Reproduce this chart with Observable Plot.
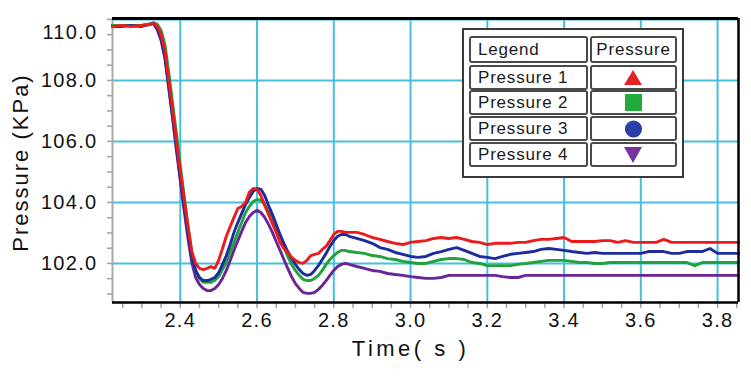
<!DOCTYPE html>
<html>
<head>
<meta charset="utf-8">
<script src="https://cdn.jsdelivr.net/npm/d3@7"></script>
<script src="https://cdn.jsdelivr.net/npm/@observablehq/plot@0.6"></script>
<style>
  body { margin: 0; background: #fff; }
  #wrap { position: relative; width: 751px; height: 380px; overflow: hidden; }
  #wrap svg.plot { position: absolute; left: 0; top: 0; }
  .lg-box { position: absolute; box-sizing: border-box; border: 2px solid #3a3a3a; background: #fff; }
  .lg-cell { position: absolute; box-sizing: border-box; border: 2px solid #4a4a4a; border-radius: 3px;
             font-family: "Liberation Sans", Arial, sans-serif; font-size: 17px; letter-spacing: 0.8px; color: #1a1a1a;
             display: flex; align-items: center; }
  .lg-sym { display: block; width: 100%; text-align: center; line-height: 0; }
  .lg-sym svg { display: inline-block; }
</style>
</head>
<body>
<div id="wrap"></div>
<script>
// ---------- data ----------
const time = [2.223, 2.25, 2.27, 2.30, 2.32, 2.33,
  2.34, 2.35, 2.36, 2.37, 2.38, 2.39, 2.40, 2.41, 2.42, 2.43,
  2.44, 2.45, 2.46, 2.47, 2.48, 2.49, 2.50, 2.51, 2.52, 2.53,
  2.54, 2.55, 2.56, 2.57, 2.58, 2.59, 2.60, 2.61, 2.62, 2.63,
  2.64, 2.65, 2.66, 2.67, 2.68, 2.69, 2.70, 2.71, 2.72, 2.73,
  2.74, 2.75, 2.76, 2.77, 2.78, 2.79, 2.80, 2.81, 2.82, 2.83, 2.84,
  2.86, 2.88, 2.90, 2.92, 2.94, 2.96, 2.98, 3.00,
  3.02, 3.04, 3.06, 3.08, 3.10, 3.12, 3.14, 3.16, 3.18, 3.20,
  3.22, 3.24, 3.26, 3.28, 3.30, 3.32, 3.34, 3.36, 3.38, 3.40,
  3.42, 3.44, 3.46, 3.48, 3.50, 3.52, 3.54, 3.56, 3.58, 3.60,
  3.62, 3.64, 3.66, 3.68, 3.70, 3.72, 3.74, 3.76, 3.78, 3.80, 3.82, 3.84,
  3.855];

const pressure1 = [109.77, 109.80, 109.77, 109.80, 109.84, 109.87,
  109.77, 109.51, 108.98, 108.00, 107.02, 106.03, 105.02, 104.13, 103.21, 102.39,
  102.00, 101.84, 101.80, 101.84, 101.90, 101.84, 102.10, 102.49, 102.89, 103.21,
  103.51, 103.80, 103.87, 104.00, 104.33, 104.46, 104.43, 104.23, 103.90, 103.61,
  103.31, 103.02, 102.69, 102.49, 102.36, 102.20, 102.10, 102.03, 102.00, 102.10,
  102.26, 102.30, 102.33, 102.46, 102.56, 102.75, 102.95, 103.05, 103.05, 103.02, 103.02,
  103.02, 102.95, 102.85, 102.79, 102.72, 102.66, 102.62, 102.69,
  102.72, 102.75, 102.82, 102.85, 102.82, 102.85, 102.79, 102.72, 102.69, 102.62,
  102.66, 102.66, 102.66, 102.69, 102.69, 102.75, 102.79, 102.79, 102.82, 102.85,
  102.72, 102.72, 102.72, 102.72, 102.75, 102.75, 102.69, 102.75, 102.69, 102.69,
  102.69, 102.69, 102.79, 102.69, 102.69, 102.69, 102.69, 102.69, 102.69, 102.69, 102.69, 102.69,
  102.69];

const pressure2 = [109.80, 109.80, 109.80, 109.80, 109.84, 109.90,
  109.84, 109.64, 109.18, 108.26, 107.25, 106.26, 105.21, 104.23, 103.25, 102.36,
  101.77, 101.51, 101.38, 101.38, 101.38, 101.44, 101.57, 101.80, 102.03, 102.36,
  102.69, 103.02, 103.34, 103.67, 103.87, 104.03, 104.10, 104.07, 103.93, 103.70,
  103.44, 103.15, 102.85, 102.52, 102.23, 101.97, 101.77, 101.61, 101.48, 101.44,
  101.44, 101.51, 101.61, 101.77, 101.97, 102.13, 102.26, 102.36, 102.43, 102.43, 102.39,
  102.36, 102.33, 102.26, 102.23, 102.16, 102.13, 102.07, 102.03,
  102.00, 102.00, 102.07, 102.13, 102.16, 102.16, 102.13, 102.03, 102.00, 101.93,
  101.93, 101.93, 101.93, 101.97, 102.00, 102.03, 102.07, 102.10, 102.10, 102.10,
  102.07, 102.03, 102.03, 102.00, 102.00, 102.03, 102.03, 102.03, 102.03, 102.03,
  102.03, 102.03, 102.03, 102.03, 102.03, 102.03, 101.93, 102.03, 102.03, 102.03, 102.03, 102.03,
  102.03];

const pressure3 = [109.77, 109.77, 109.80, 109.77, 109.84, 109.87,
  109.70, 109.38, 108.79, 107.80, 106.82, 105.84, 104.82, 103.90, 103.02, 102.23,
  101.77, 101.54, 101.44, 101.44, 101.48, 101.54, 101.70, 101.97, 102.26, 102.62,
  103.02, 103.34, 103.64, 103.93, 104.16, 104.36, 104.46, 104.43, 104.23, 103.90,
  103.61, 103.28, 102.95, 102.66, 102.39, 102.16, 101.97, 101.80, 101.67, 101.61,
  101.64, 101.77, 101.93, 102.13, 102.33, 102.56, 102.75, 102.89, 102.95, 102.95, 102.89,
  102.82, 102.75, 102.66, 102.52, 102.46, 102.36, 102.30, 102.23,
  102.20, 102.23, 102.33, 102.39, 102.46, 102.52, 102.43, 102.33, 102.23, 102.20,
  102.16, 102.23, 102.30, 102.33, 102.36, 102.39, 102.46, 102.49, 102.46, 102.43,
  102.39, 102.36, 102.33, 102.36, 102.33, 102.33, 102.33, 102.33, 102.33, 102.33,
  102.39, 102.39, 102.39, 102.33, 102.33, 102.39, 102.39, 102.39, 102.49, 102.33, 102.33, 102.33,
  102.33];

const pressure4 = [109.80, 109.80, 109.80, 109.80, 109.84, 109.87,
  109.67, 109.31, 108.72, 107.74, 106.75, 105.70, 104.72, 103.74, 102.82, 102.03,
  101.54, 101.31, 101.18, 101.11, 101.11, 101.18, 101.31, 101.51, 101.77, 102.10,
  102.43, 102.75, 103.05, 103.34, 103.54, 103.67, 103.74, 103.67, 103.51, 103.28,
  103.02, 102.72, 102.43, 102.13, 101.84, 101.57, 101.34, 101.18, 101.05, 101.02,
  101.02, 101.05, 101.15, 101.28, 101.44, 101.61, 101.77, 101.90, 101.97, 102.00, 101.97,
  101.90, 101.84, 101.77, 101.74, 101.67, 101.64, 101.61, 101.57,
  101.54, 101.51, 101.51, 101.54, 101.61, 101.61, 101.61, 101.61, 101.61, 101.61,
  101.61, 101.57, 101.54, 101.54, 101.61, 101.61, 101.61, 101.61, 101.61, 101.61,
  101.61, 101.61, 101.61, 101.61, 101.61, 101.61, 101.61, 101.61, 101.61, 101.61,
  101.61, 101.61, 101.61, 101.61, 101.61, 101.61, 101.61, 101.61, 101.61, 101.61, 101.61, 101.61,
  101.61];

const seriesNames = ["Pressure 1", "Pressure 2", "Pressure 3", "Pressure 4"];
const seriesColors = ["#ec1a1a", "#20a23c", "#1c2c9c", "#6a2498"];
const symbolColors = ["#e42424", "#22aa3e", "#2a40a8", "#7434a4"];
const symbolShapes = ["triangle", "square", "circle", "triangle-down"];

const xTicks = [2.4, 2.6, 2.8, 3.0, 3.2, 3.4, 3.6, 3.8];
const yTicks = [102, 104, 106, 108, 110];
const yTopTick = [110];
const yInnerTicks = [102, 104, 106, 108];
const xMinorTicks = d3.range(2.25, 3.851, 0.05);
const yMinorTicks = d3.range(101, 110.01, 0.5);
const xDomain = [2.2234, 3.8545];
const yDomain = [100.72, 110.03];

const yLabel = "Pressure (KPa)";
const xLabel = "Time( s )";
const legendHeader = ["Legend", "Pressure"];

// ---------- build table ----------
const allSeries = [pressure1, pressure2, pressure3, pressure4];
const rows = [];
// draw order: purple, green, blue, red (red on top)
[3, 1, 2, 0].forEach(si => {
  const vals = allSeries[si];
  const n = Math.min(time.length, vals.length);
  for (let i = 0; i < n; i++) rows.push({t: time[i], v: vals[i], s: seriesNames[si]});
});

const gridColor = "#45bfdc";

const chart = Plot.plot({
  className: "plot",
  width: 751,
  height: 380,
  marginLeft: 112,
  marginRight: 13,
  marginTop: 18,
  marginBottom: 78,
  style: {fontFamily: "'Liberation Sans', Arial, sans-serif", fontSize: "20px", color: "#111", background: "transparent", letterSpacing: "1.3px"},
  x: {domain: xDomain},
  y: {domain: yDomain},
  color: {domain: seriesNames, range: seriesColors},
  marks: [
    Plot.gridX(xTicks, {stroke: gridColor, strokeOpacity: 1, strokeWidth: 2}),
    Plot.gridY(yTicks, {stroke: gridColor, strokeOpacity: 1, strokeWidth: 2}),
    Plot.axisX(xMinorTicks, {tickSize: 6, tickFormat: () => "", stroke: "#a0a0a0", strokeWidth: 1.5, label: null}),
    Plot.axisX(xTicks, {tickSize: 0, tickPadding: 10, tickFormat: d3.format(".1f"), label: null}),
    Plot.axisY(yMinorTicks, {tickSize: 5, tickFormat: () => "", stroke: "#a0a0a0", strokeWidth: 1.5, label: null}),
    Plot.axisY(yInnerTicks, {tickSize: 0, tickPadding: 15, tickFormat: d3.format(".1f"), label: null}),
    Plot.axisY(yTopTick, {tickSize: 0, tickPadding: 15, tickFormat: d3.format(".1f"), label: null, dy: 13}),
    Plot.ruleX([xDomain[0]], {stroke: "#a8a8a8", strokeWidth: 2}),
    Plot.line(rows, {x: "t", y: "v", z: "s", stroke: "s", strokeWidth: 2.9, strokeLinejoin: "miter"}),
    Plot.ruleY([yDomain[0]], {stroke: "#000", strokeWidth: 2.5}),
    Plot.ruleY([yDomain[1]], {stroke: "#000", strokeWidth: 3}),
    Plot.ruleX([xDomain[1]], {stroke: "#000", strokeWidth: 2.5}),
    Plot.text([yLabel], {text: d => d, frameAnchor: "left", textAnchor: "middle", dx: -92, dy: 2, rotate: -90, fontSize: 22}),
    Plot.text([xLabel], {text: d => d, frameAnchor: "bottom", dx: -15, dy: 53, fontSize: 22})
  ]
});

const wrap = document.getElementById("wrap");
wrap.appendChild(chart);

// letter spacing of the two axis titles
d3.select(chart).selectAll("text").each(function() {
  const t = this.textContent;
  if (t === yLabel) this.style.letterSpacing = "2px";
  if (t === xLabel) { this.style.letterSpacing = "3.5px"; this.style.wordSpacing = "0px"; }
});

// ---------- legend (HTML overlay) ----------
function addDiv(cls, left, top, w, h, html) {
  const d = document.createElement("div");
  d.className = cls;
  d.style.left = left + "px"; d.style.top = top + "px";
  d.style.width = w + "px"; d.style.height = h + "px";
  if (html != null) d.innerHTML = html;
  wrap.appendChild(d);
  return d;
}
function symbolSvg(shape, color) {
  let g;
  if (shape === "triangle") g = `<polygon points="9,1 18,16 0,16" fill="${color}"/>`;
  else if (shape === "square") g = `<rect x="1" y="0" width="17" height="17" fill="${color}"/>`;
  else if (shape === "circle") g = `<circle cx="9.5" cy="9" r="8.6" fill="${color}"/>`;
  else g = `<polygon points="0,1 18,1 9,17" fill="${color}"/>`;
  return `<span class="lg-sym"><svg width="19" height="18" viewBox="0 0 19 18">${g}</svg></span>`;
}
addDiv("lg-box", 462, 28, 222, 150, null);
const c1x = 469, c1w = 119, c2x = 590, c2w = 87;
addDiv("lg-cell", c1x, 36, c1w, 27, `<span style="padding-left:7px">${legendHeader[0]}</span>`);
addDiv("lg-cell", c2x, 36, c2w, 27, `<span style="width:100%;text-align:center">${legendHeader[1]}</span>`);
const rowTops = [65, 90, 116, 142];
seriesNames.forEach((name, i) => {
  addDiv("lg-cell", c1x, rowTops[i], c1w, 25, `<span style="padding-left:7px">${name}</span>`);
  addDiv("lg-cell", c2x, rowTops[i], c2w, 25, symbolSvg(symbolShapes[i], symbolColors[i]));
});
</script>
</body>
</html>
